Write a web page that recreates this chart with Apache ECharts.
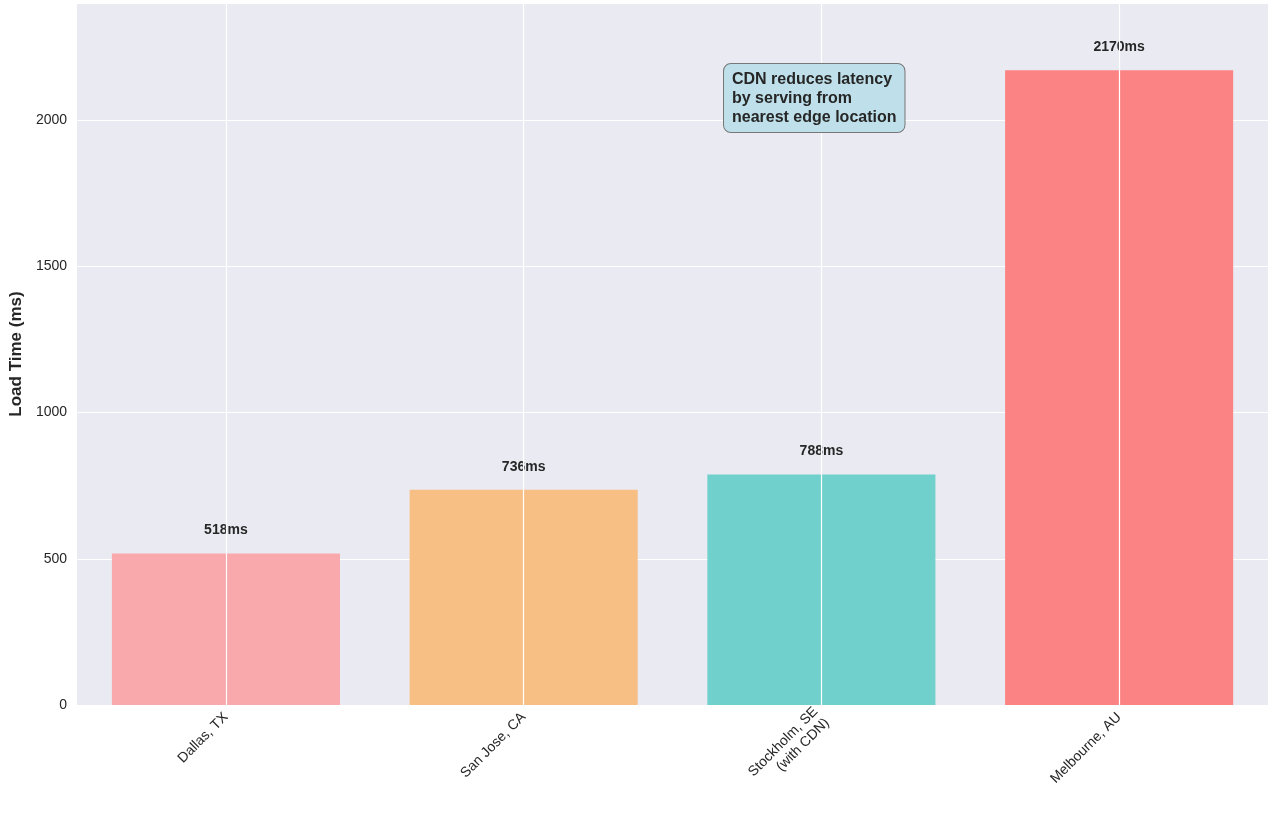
<!DOCTYPE html>
<html><head><meta charset="utf-8">
<script src="https://cdn.jsdelivr.net/npm/echarts@6/dist/echarts.min.js"></script>
<style>html,body{margin:0;padding:0;background:#fff}#c{width:1280px;height:817px}</style>
</head><body><div id="c"></div>
<script>
const categories = ['Dallas, TX', 'San Jose, CA', 'Stockholm, SE\n(with CDN)', 'Melbourne, AU'];
const loadTimes = [518, 736, 788, 2170];
const barColors = ['#f9a8ab', '#f8bf84', '#6fd0cc', '#fc8383'];
const yTicks = { min: 0, max: 2400, interval: 500 };
const note = 'CDN reduces latency\nby serving from\nnearest edge location';

const chart = echarts.init(document.getElementById('c'));
chart.setOption({
  backgroundColor: '#fff',
  animation: false,
  grid: { left: 77, right: 12, top: 3, bottom: 112, containLabel: false, backgroundColor: '#eaeaf2', show: true, borderWidth: 0 },
  xAxis: {
    type: 'category', data: categories,
    axisLine: { show: false }, axisTick: { show: false },
    axisLabel: { rotate: 45, fontSize: 14, color: '#262626', fontFamily: 'Liberation Sans, Arial', margin: 10, align: 'right', lineHeight: 16 }
  },
  yAxis: {
    type: 'value', min: yTicks.min, max: yTicks.max, interval: yTicks.interval,
    name: 'Load Time (ms)', nameLocation: 'middle', nameGap: 52,
    nameTextStyle: { fontSize: 17, fontWeight: 'bold', color: '#262626', fontFamily: 'Liberation Sans, Arial' },
    axisLine: { show: false }, axisTick: { show: false },
    axisLabel: { fontSize: 14, color: '#262626', fontFamily: 'Liberation Sans, Arial', margin: 10,
      formatter: v => v > 2000 ? '' : v },
    splitLine: { lineStyle: { color: '#ffffff', width: 1.2 } }
  },
  series: [
    {
      type: 'line', data: [], z: 1, silent: true,
      markLine: { symbol: 'none', silent: true, label: { show: false },
        lineStyle: { color: '#ffffff', type: 'solid', width: 1.2 },
        data: categories.map(c => ({ xAxis: c })) }
    },
    {
      type: 'bar', z: 2, barCategoryGap: '23.4%',
      data: loadTimes.map((v, i) => ({ value: v, itemStyle: { color: barColors[i] } })),
      label: { show: true, position: 'top', distance: 16, formatter: p => p.value + 'ms',
        fontSize: 14, fontWeight: 'bold', color: '#262626', fontFamily: 'Liberation Sans, Arial' }
    }
  ],
  graphic: [{
    type: 'text', left: 723, top: 63, z: 10,
    style: { text: note, align: 'center', fontSize: 16, fontWeight: 'bold', lineHeight: 19,
      fill: '#262626', fontFamily: 'Liberation Sans, Arial',
      backgroundColor: '#bfe0ea', borderColor: '#777', borderWidth: 1, borderRadius: 7,
      padding: [6, 8, 5, 8] }
  }]
});
</script></body></html>
